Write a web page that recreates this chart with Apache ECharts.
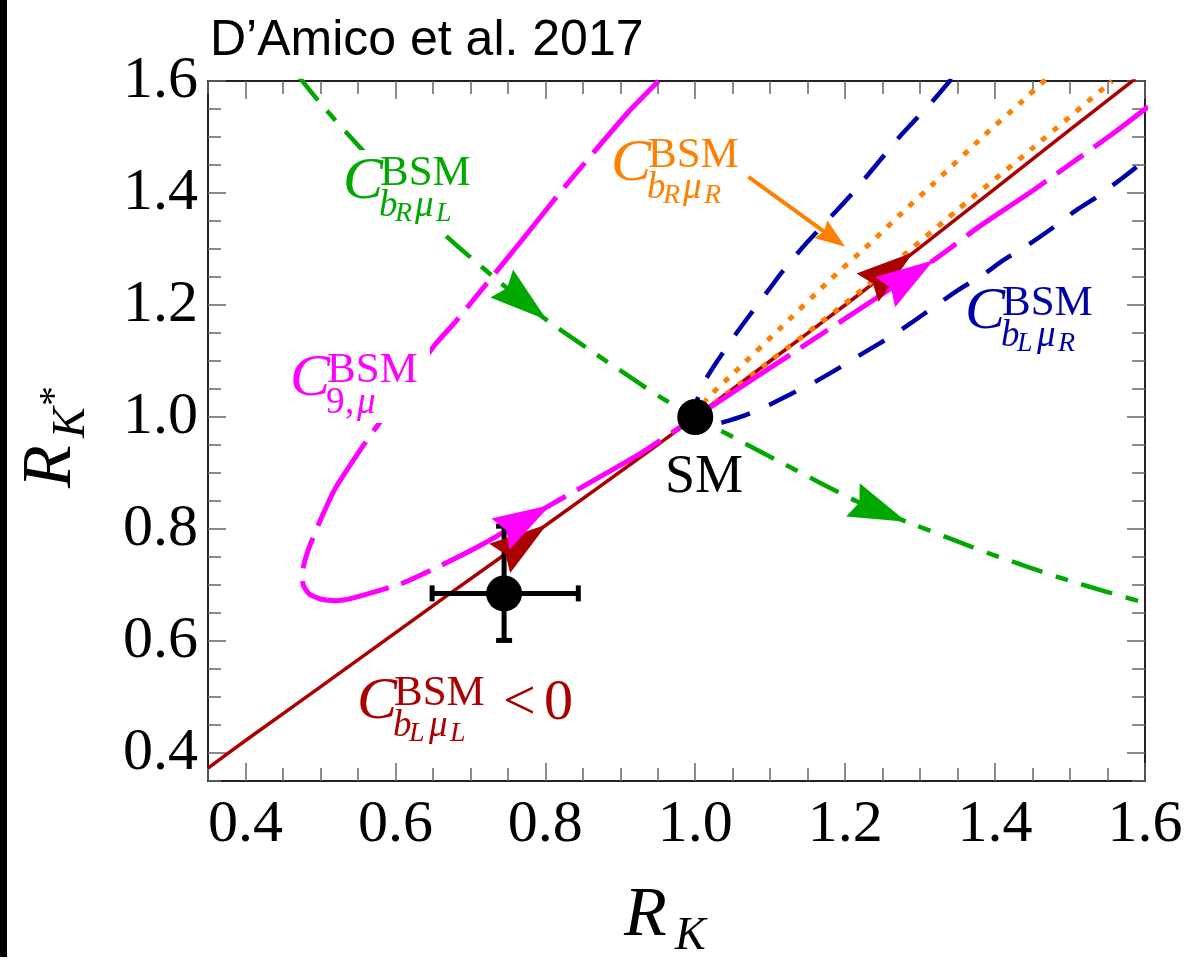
<!DOCTYPE html>
<html>
<head>
<meta charset="utf-8">
<style>
html, body { margin: 0; padding: 0; background: #fff; }
#chart { width: 1189px; height: 966px; }
</style>
<script src="https://cdn.jsdelivr.net/npm/echarts@6.0.0/dist/echarts.min.js"></script>
</head>
<body>
<div id="chart"></div>
<script>
// ── ticks ──
var xMajorTicks = [0.4, 0.6, 0.8, 1.0, 1.2, 1.4, 1.6];
var xMinorTicks = [0.35, 0.45, 0.5, 0.55, 0.65, 0.7, 0.75, 0.85, 0.9, 0.95, 1.05, 1.1, 1.15, 1.25, 1.3, 1.35, 1.45, 1.5, 1.55];
var yMajorTicks = [0.4, 0.6, 0.8, 1.0, 1.2, 1.4, 1.6];
var yMinorTicks = [0.35, 0.45, 0.5, 0.55, 0.65, 0.7, 0.75, 0.85, 0.9, 0.95, 1.05, 1.1, 1.15, 1.25, 1.3, 1.35, 1.45, 1.5, 1.55];

// ── curves, [R_K, R_K*] ──
var bLmuL = [[0.35, 0.373], [0.407, 0.429], [0.5, 0.518], [0.673, 0.685], [0.802, 0.808], [0.94, 0.941],
    [1.0, 1.0], [1.1, 1.1], [1.2, 1.2], [1.3, 1.303], [1.4, 1.408], [1.5, 1.513], [1.587, 1.604]];
var bRmuR = [[1.467, 1.602], [1.433, 1.56], [1.384, 1.501], [1.318, 1.417], [1.273, 1.361], [1.238, 1.316],
    [1.18, 1.245], [1.113, 1.158], [1.051, 1.078], [1.016, 1.033], [1.0, 1.0], [1.1, 1.1], [1.2, 1.203],
    [1.27, 1.28], [1.35, 1.37], [1.45, 1.48], [1.556, 1.6]];
var bLmuR = [[1.342, 1.604], [1.316, 1.563], [1.291, 1.527], [1.273, 1.501], [1.21, 1.4], [1.144, 1.304],
    [1.116, 1.259], [1.098, 1.227], [1.071, 1.179], [1.053, 1.146], [1.029, 1.099], [1.011, 1.06],
    [1.0, 1.02], [0.999, 1.0], [1.005, 0.99], [1.02, 0.986], [1.062, 1.001], [1.093, 1.018], [1.129, 1.042],
    [1.16, 1.063], [1.196, 1.091], [1.224, 1.114], [1.26, 1.143], [1.287, 1.167], [1.322, 1.2], [1.351, 1.227],
    [1.384, 1.254], [1.411, 1.28], [1.447, 1.31], [1.476, 1.337], [1.509, 1.37], [1.536, 1.393], [1.569, 1.426],
    [1.6, 1.458]];
var c9mu = [[0.951, 1.6], [0.909, 1.542], [0.824, 1.408], [0.769, 1.316], [0.713, 1.224], [0.68, 1.17],
    [0.651, 1.126], [0.58, 0.992], [0.553, 0.941], [0.52, 0.873], [0.5, 0.816], [0.483, 0.76], [0.476, 0.722],
    [0.477, 0.7], [0.485, 0.684], [0.5, 0.675], [0.52, 0.672], [0.544, 0.677], [0.611, 0.704], [0.664, 0.737],
    [0.718, 0.774], [0.807, 0.843], [0.927, 0.935], [1.0, 1.0], [1.082, 1.072], [1.207, 1.182], [1.318, 1.28],
    [1.382, 1.343], [1.451, 1.405], [1.556, 1.505], [1.604, 1.554]];
var bRmuL = [[0.47, 1.61], [0.5, 1.56], [0.558, 1.474], [0.664, 1.328], [0.731, 1.25], [0.802, 1.173],
    [0.869, 1.111], [0.953, 1.036], [1.0, 1.0], [1.113, 0.92], [1.216, 0.849], [1.282, 0.813], [1.397, 0.754],
    [1.496, 0.709], [1.6, 0.668]];

// arrowheads: [tipX, tipY, fromX, fromY]
var redArrows = [[0.802, 0.808, 0.7, 0.71], [1.291, 1.294, 1.2, 1.2]];
var magentaArrows = [[0.807, 0.843, 0.718, 0.774], [1.318, 1.28, 1.207, 1.182]];
var greenArrows = [[0.802, 1.173, 0.731, 1.25], [1.282, 0.813, 1.216, 0.849]];
var labelPointer = [[1.2, 1.304, 1.071, 1.429]];

// SM and measurement: [x, y, xlo, xhi, ylo, yhi]
var smPoint = [[1.0, 1.0]];
var measurement = [[0.745, 0.685, 0.649, 0.844, 0.601, 0.805]];

var RED = '#aa0000', ORANGE = '#ff8000', BLUE = '#0000a8', MAGENTA = '#ff00ff', GREEN = '#00a800';
var SERIF = '"Liberation Serif", "Times New Roman", serif';

var chart = echarts.init(document.getElementById('chart'));

function curve(data, color, width, dash, z) {
    return {
        type: 'line', data: data, symbol: 'none', smooth: 0.2, silent: true, z: z,
        lineStyle: { color: color, width: width, type: dash, cap: 'butt' }
    };
}

function arrowShape(tip, from, len, half, notch) {
    var dx = tip[0] - from[0], dy = tip[1] - from[1];
    var d = Math.sqrt(dx * dx + dy * dy) || 1;
    var ux = dx / d, uy = dy / d, nx = -uy, ny = ux;
    var bx = tip[0] - ux * len, by = tip[1] - uy * len;
    return [tip, [bx + nx * half, by + ny * half],
        [tip[0] - ux * (len - notch), tip[1] - uy * (len - notch)],
        [bx - nx * half, by - ny * half]];
}

function arrows(data, color, z) {
    return {
        type: 'custom', data: data, silent: true, z: z,
        renderItem: function (params, api) {
            var tip = api.coord([api.value(0), api.value(1)]);
            var from = api.coord([api.value(2), api.value(3)]);
            return { type: 'polygon', shape: { points: arrowShape(tip, from, 58, 18, 7) }, style: { fill: color } };
        }
    };
}

function txt(s, x, base, size, color, italic, family) {
    return {
        type: 'text', x: x, y: base - 0.34 * size, z: 100,
        style: { text: s, fill: color, font: (italic ? 'italic ' : '') + size + 'px ' + (family || SERIF),
            align: 'left', verticalAlign: 'middle' }
    };
}

function rotTxt(s, baseX, startY, size, italic) {
    var t = txt(s, 0, 0, size, '#000', italic);
    t.x = baseX - 0.34 * size;
    t.y = startY;
    t.rotation = Math.PI / 2;
    return t;
}

// C^BSM with a two-letter subscript like b_R mu_L
function cLabel(x0, y0, color, q, l) {
    return [
        txt('C', x0, y0, 60, color, true),
        txt('BSM', x0 + 37, y0 - 15, 43, color, false),
        txt('b', x0 + 36, y0 + 16, 37, color, true),
        txt(q, x0 + 52, y0 + 20, 28, color, true),
        txt('μ', x0 + 72, y0 + 16, 37, color, true),
        txt(l, x0 + 93, y0 + 20, 28, color, true)
    ];
}

function whiteBox(x, y, w, h) {
    return { type: 'rect', x: x, y: y, z: 99, shape: { width: w, height: h }, style: { fill: '#fff' } };
}

var graphics = [
    { type: 'rect', x: 0, y: 0, z: 100, shape: { width: 7, height: 957 }, style: { fill: '#000' } },
    txt('D’Amico et al. 2017', 210, 58, 50, '#000', false, '"Liberation Sans", Arial, sans-serif'),
    whiteBox(343, 150, 135, 84),
    whiteBox(290, 345, 140, 78),
    txt('SM', 665, 496, 54, '#000', false),
    // axis titles
    txt('R', 624, 940, 70, '#000', true),
    txt('K', 675, 953, 46, '#000', true),
    rotTxt('R', 75, 488, 70, true),
    rotTxt('K', 88, 438, 46, true),
    rotTxt('*', 69, 406, 40, false)
];
graphics = graphics.concat(
    cLabel(343, 203, GREEN, 'R', 'L'),
    cLabel(611, 185, ORANGE, 'R', 'R'),
    cLabel(965, 333, BLUE, 'L', 'R'),
    cLabel(357, 723, RED, 'L', 'L'),
    [txt('<', 503, 723, 58, RED, false), txt('0', 544, 723, 58, RED, false)],
    [txt('C', 290, 400, 60, MAGENTA, true), txt('BSM', 327, 385, 43, MAGENTA, false),
        txt('9', 326, 416, 37, MAGENTA, false), txt(',', 345, 416, 37, MAGENTA, false),
        txt('μ', 357, 416, 37, MAGENTA, true)]
);

function axisDef(pos, ticks, len, labels, margin) {
    return {
        type: 'value', min: 0.35, max: 1.6, position: pos,
        axisLine: { show: false, onZero: false }, splitLine: { show: false },
        axisTick: { show: true, inside: true, length: len, customValues: ticks, lineStyle: { color: '#666', width: 1.5 } },
        axisLabel: labels ? { show: true, customValues: ticks, formatter: function (v) { return v.toFixed(1); },
            fontFamily: SERIF, fontSize: 60, color: '#000', margin: margin } : { show: false }
    };
}

function errorBar(params, api) {
    var l = api.coord([api.value(2), api.value(1)]);
    var r = api.coord([api.value(3), api.value(1)]);
    var b = api.coord([api.value(0), api.value(4)]);
    var t = api.coord([api.value(0), api.value(5)]);
    var cap = 8;
    function seg(x1, y1, x2, y2) {
        return { type: 'line', shape: { x1: x1, y1: y1, x2: x2, y2: y2 }, style: { stroke: '#000', lineWidth: 5 } };
    }
    return { type: 'group', children: [
        seg(l[0], l[1], r[0], r[1]), seg(b[0], b[1], t[0], t[1]),
        seg(l[0], l[1] - cap, l[0], l[1] + cap), seg(r[0], r[1] - cap, r[0], r[1] + cap),
        seg(b[0] - cap, b[1], b[0] + cap, b[1]), seg(t[0] - cap, t[1], t[0] + cap, t[1])
    ] };
}

chart.setOption({
    animation: false,
    grid: { left: 208, right: 44, top: 81, bottom: 185, show: true, borderColor: '#222', borderWidth: 2,
        backgroundColor: 'rgba(0,0,0,0)' },
    xAxis: [
        axisDef('bottom', xMajorTicks, 18, true, 14),
        axisDef('bottom', xMinorTicks, 13, false),
        axisDef('top', xMajorTicks, 18, false),
        axisDef('top', xMinorTicks, 13, false)
    ],
    yAxis: [
        axisDef('left', yMajorTicks, 18, true, 10),
        axisDef('left', yMinorTicks, 13, false),
        axisDef('right', yMajorTicks, 18, false),
        axisDef('right', yMinorTicks, 13, false)
    ],
    series: [
        curve(bLmuL, RED, 3.5, 'solid', 3),
        curve(bRmuR, ORANGE, 5, [6, 9], 4),
        curve(bLmuR, BLUE, 4.5, [30, 21], 4),
        curve(c9mu, MAGENTA, 5, [97, 13, 32, 13], 5),
        curve(bRmuL, GREEN, 4.5, [32, 14, 13, 14], 5),
        { type: 'custom', data: measurement, silent: true, z: 6, renderItem: errorBar },
        arrows(redArrows, RED, 7),
        arrows(magentaArrows, MAGENTA, 8),
        arrows(greenArrows, GREEN, 8),
        {
            type: 'custom', data: labelPointer, silent: true, z: 8,
            renderItem: function (params, api) {
                var tip = api.coord([api.value(0), api.value(1)]);
                var from = api.coord([api.value(2), api.value(3)]);
                var pts = arrowShape(tip, from, 30, 11, 4);
                return { type: 'group', children: [
                    { type: 'line', shape: { x1: from[0], y1: from[1], x2: pts[2][0], y2: pts[2][1] },
                        style: { stroke: ORANGE, lineWidth: 4 } },
                    { type: 'polygon', shape: { points: pts }, style: { fill: ORANGE } }
                ] };
            }
        },
        {
            type: 'scatter', data: measurement.map(function (m) { return [m[0], m[1]]; }),
            symbol: 'circle', symbolSize: 36, itemStyle: { color: '#000', opacity: 1 }, silent: true, z: 9
        },
        {
            type: 'scatter', data: smPoint, symbol: 'circle', symbolSize: 36,
            itemStyle: { color: '#000', opacity: 1 }, silent: true, z: 9
        }
    ],
    graphic: graphics
});

window.addEventListener('resize', function () { chart.resize(); });
</script>
</body>
</html>
